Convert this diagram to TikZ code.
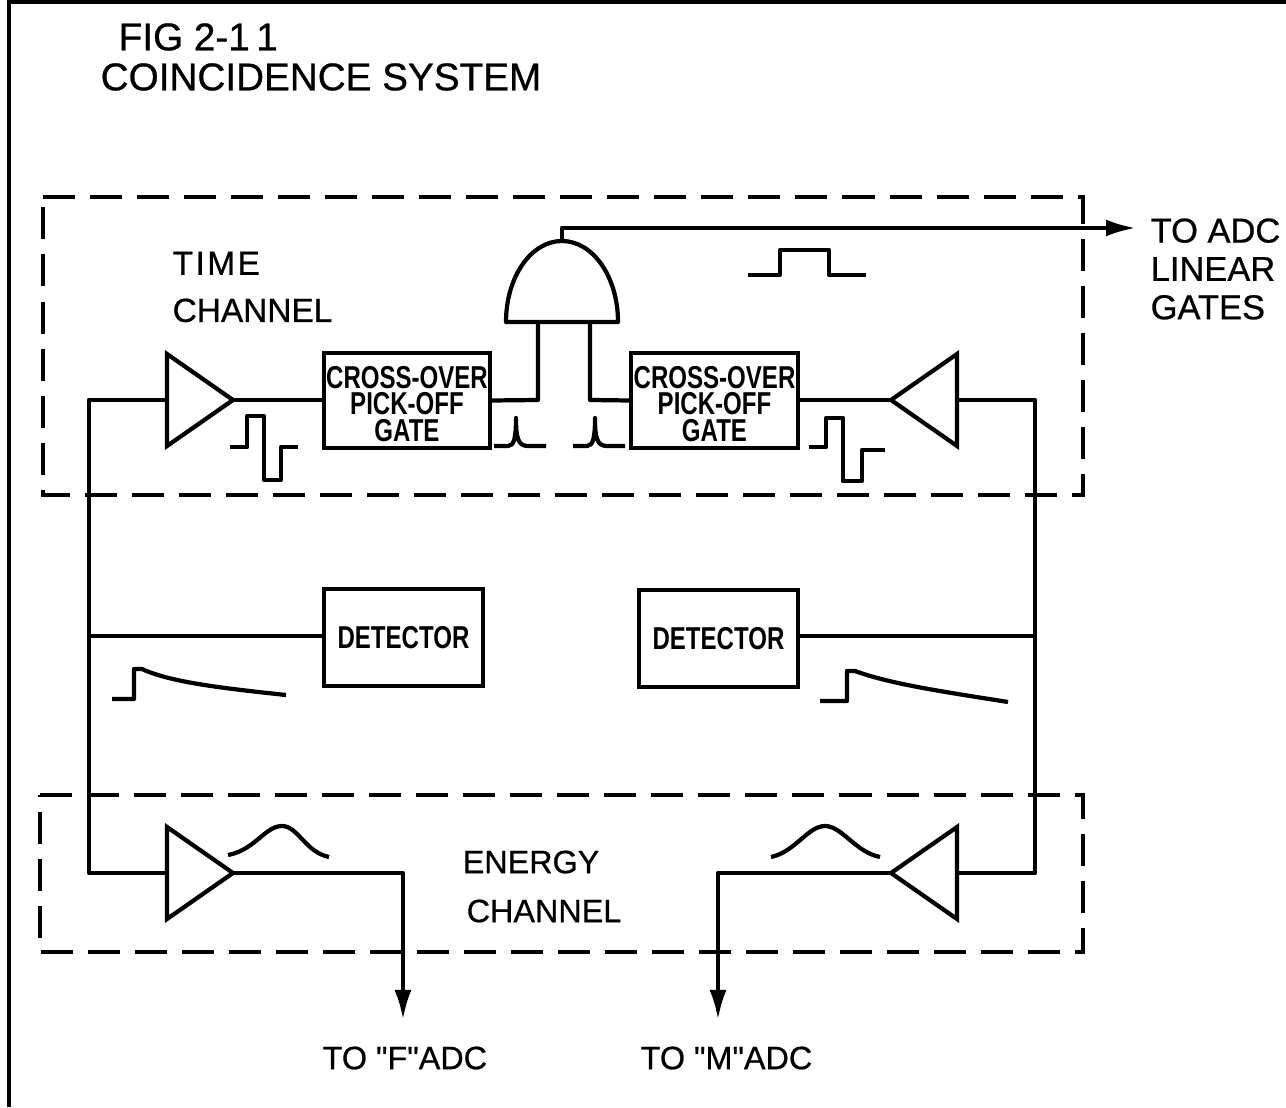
\documentclass[tikz,border=0pt]{standalone}
\usepackage{fontspec}
\setmainfont[FakeBold=0.7]{Liberation Sans}
\newfontfamily\boxfont[FakeStretch=0.76]{Liberation Sans}
\newfontfamily\adcfont[FakeBold=0.7]{Liberation Sans}
\usetikzlibrary{arrows.meta,shapes.geometric}
\tikzset{
  wire/.style={line width=1.2pt,line join=round},
  dashbox/.style={line width=1.2pt,dash pattern=on 0.32cm off 0.15cm},
  ampr/.style={draw,line width=1.2pt,isosceles triangle,isosceles triangle stretches,
    minimum height=0.66cm,minimum width=0.92cm,inner sep=0pt,outer sep=0pt,anchor=apex},
  ampl/.style={ampr,shape border rotate=180},
  blockbox/.style={draw,line width=1.2pt,inner sep=0pt,align=center,
    font=\boxfont\bfseries\fontsize{9}{7.6}\selectfont},
  label/.style={inner sep=0pt,anchor=west,align=left,font=\fontsize{9.5}{11}\selectfont},
  biglabel/.style={label,font=\fontsize{11}{13}\selectfont},
  tip/.style={-{Latex[length=0.3cm,width=0.17cm]}}
}
\newcommand{\toprule}{\rule{0pt}{8.3pt}}
\begin{document}
\begin{tikzpicture}[x=0.01cm,y=-0.01cm]
  \useasboundingbox (0,0) rectangle (1286,1107);

  % frame
  \draw[line width=1pt] (9,1107) -- (9,2) -- (1286,2);

  % titles
  \node[biglabel] (title) at (118,37) {FIG 2-1\,1};
  \node[biglabel] (subtitle) at (100,77) {COINCIDENCE SYSTEM};
  \node[label,font=\fontsize{9.5}{13.4}\selectfont] (timelabel) at (172,287) {T\kern.7pt I\kern.7pt M\kern.7pt E\\CHANNEL};
  \node[label,font=\fontsize{9.2}{11}\selectfont] (energylabel) at (462,862) {ENERGY};
  \node[label,font=\fontsize{9.2}{11}\selectfont] (channellabel) at (466,911) {CHANNEL};
  \node[label,font=\fontsize{9.8}{10.9}\selectfont] (adclabel) at (1150,269) {TO ADC\\LINEAR\\GATES};
  \node[label,font=\adcfont\fontsize{9.2}{11}\selectfont] (flabel) at (322,1058) {TO "F"ADC};
  \node[label,font=\adcfont\fontsize{9.2}{11}\selectfont] (mlabel) at (640,1058) {TO "M"ADC};

  % channel outlines
  \draw[dashbox] (43,197) -- (1083,197) -- (1083,495) -- (43,495) -- cycle;
  \draw[dashbox] (40,795) -- (1083,795) -- (1083,952) -- (40,952) -- cycle;

  % amplifiers
  \node[ampr] (amptl) at (233,400) {};
  \node[ampl] (amptr) at (891,400) {};
  \node[ampr] (ampbl) at (233,873) {};
  \node[ampl] (ampbr) at (891,873) {};

  % blocks
  \node[blockbox,minimum width=1.66cm,minimum height=0.95cm] (xl) at (407,400.5) {\toprule CROSS-OVER\\PICK-OFF\\GATE};
  \node[blockbox,minimum width=1.67cm,minimum height=0.95cm] (xr) at (714.5,400.5) {\toprule CROSS-OVER\\PICK-OFF\\GATE};
  \node[blockbox,minimum width=1.59cm,minimum height=0.97cm] (dl) at (403.5,637.5) {DETECTOR};
  \node[blockbox,minimum width=1.59cm,minimum height=0.97cm] (dr) at (718.5,638.5) {DETECTOR};

  % coincidence gate
  \draw[wire] (506,322) .. controls (506,277) and (531,241) .. (562,241)
    .. controls (593,241) and (618,277) .. (618,322) -- cycle;
  \coordinate (andl) at (538,322);
  \coordinate (andr) at (590,322);
  \coordinate (andout) at (562,241);
  \coordinate (adc) at (1136,228);
  \coordinate (fadc) at (403,1020);
  \coordinate (madc) at (718,1020);

  % bus lines
  \coordinate (bustl) at (89,400);
  \coordinate (busml) at (89,636);
  \coordinate (busbl) at (89,873);
  \coordinate (bustr) at (1035,400);
  \coordinate (busmr) at (1035,636);
  \coordinate (busbr) at (1035,873);

  \draw[wire] (amptl.lower side) -- (bustl) -- (busbl) -- (ampbl.lower side);
  \draw[wire] (amptr.lower side) -- (bustr) -- (busbr) -- (ampbr.lower side);
  \draw[wire] (busml) -- (dl.west |- busml);
  \draw[wire] (dr.east |- busmr) -- (busmr);
  \draw[wire] (amptl.apex) -- (xl.west |- amptl.apex);
  \draw[wire] (amptr.apex) -- (xr.east |- amptr.apex);
  \draw[wire] (xl.east) -- (538,400) -- (andl);
  \draw[wire] (xr.west) -- (590,400) -- (andr);
  \draw[wire,tip] (andout) -- (562,228) -- (adc);
  \draw[wire,tip] (ampbl.apex) -- (403,873) -- (fadc);
  \draw[wire,tip] (ampbr.apex) -- (718,873) -- (madc);

  % pulse shapes
  \draw[wire] (230,447) -- (247,447) -- (247,416) -- (264,416) -- (264,480) -- (281,480) -- (281,447) -- (298,447);
  \draw[wire] (809,447) -- (826,447) -- (826,418) -- (843,418) -- (843,481) -- (862,481) -- (862,450) -- (885,450);
  \draw[wire] (748,275) -- (780,275) -- (780,250) -- (829,250) -- (829,275) -- (866,275);
  \draw[wire] (494,446) -- (508,446) .. controls (514,446) and (516,438) .. (516,418)
    .. controls (516,438) and (518,446) .. (528,446) -- (546,446);
  \draw[wire] (573,446) -- (587,446) .. controls (593,446) and (595,438) .. (595,418)
    .. controls (595,438) and (597,446) .. (607,446) -- (625,446);
  \draw[wire] (112,699) -- (134,699) -- (134,669) -- (142,669) .. controls (170,682) and (220,688) .. (286,695);
  \draw[wire] (820,701) -- (847,701) -- (847,671) -- (855,671) .. controls (890,684) and (945,692) .. (1008,702);
  \draw[wire] (228,855) .. controls (255,850) and (265,826) .. (282,826) .. controls (298,826) and (305,852) .. (329,857);
  \draw[wire] (771,857) .. controls (795,852) and (808,826) .. (825,826) .. controls (842,826) and (855,852) .. (880,857);
\end{tikzpicture}
\end{document}
